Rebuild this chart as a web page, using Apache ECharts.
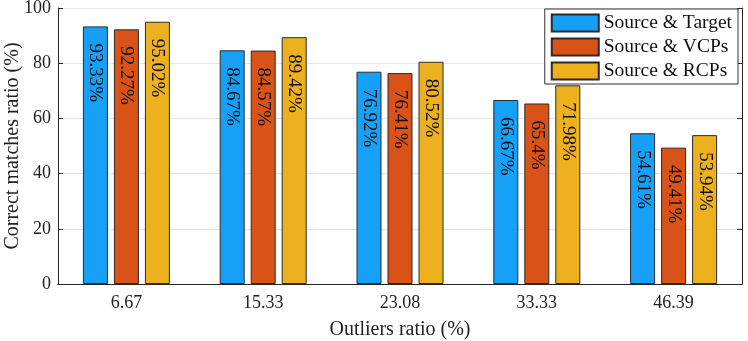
<!DOCTYPE html>
<html>
<head>
<meta charset="utf-8">
<script src="https://cdn.jsdelivr.net/npm/echarts@6/dist/echarts.min.js"></script>
<style>
  html, body { margin: 0; padding: 0; background: #fff; }
  #chart { width: 748px; height: 341px; }
</style>
</head>
<body>
<div id="chart"></div>
<script>
const categories = ['6.67', '15.33', '23.08', '33.33', '46.39']
const sourceTarget = [93.33, 84.67, 76.92, 66.67, 54.61]
const sourceVCPs = [92.27, 84.57, 76.41, 65.4, 49.41]
const sourceRCPs = [95.02, 89.42, 80.52, 71.98, 53.94]
const seriesNames = ['Source & Target', 'Source & VCPs', 'Source & RCPs']
const colors = ['#16A0F8', '#D95319', '#EDB120']

const font = 'Liberation Serif'
const axisColor = '#262626'

function makeSeries (name, data, color) {
  return {
    name: name,
    type: 'bar',
    data: data,
    barWidth: 25,
    barGap: '24%',
    itemStyle: {
      color: color,
      borderColor: '#2a2a2a',
      borderWidth: 1
    },
    label: {
      show: true,
      position: 'insideTop',
      distance: 17,
      rotate: -90,
      align: 'left',
      verticalAlign: 'middle',
      formatter: p => p.value + '%',
      color: '#111',
      fontSize: 19,
      fontFamily: font
    }
  }
}

let myChart = echarts.init(document.getElementById('chart'))
let option = {
  animation: false,
  grid: { left: 58, right: 6, top: 8, bottom: 57, outerBoundsMode: 'none' },
  legend: {
    data: seriesNames,
    orient: 'vertical',
    right: 10,
    top: 9,
    icon: 'rect',
    itemWidth: 47,
    itemHeight: 17,
    itemGap: 4,
    padding: [4, 6, 3, 6],
    backgroundColor: '#fff',
    borderColor: '#333',
    borderWidth: 1,
    textStyle: { fontSize: 19.5, lineHeight: 20, fontFamily: font, color: '#111' }
  },
  xAxis: [{
    type: 'category',
    data: categories,
    name: 'Outliers ratio (%)',
    nameLocation: 'middle',
    nameGap: 36,
    nameMoveOverlap: false,
    nameTextStyle: { fontSize: 20, fontFamily: font, color: '#222' },
    axisLine: { lineStyle: { color: axisColor } },
    axisTick: { inside: true, alignWithLabel: true, length: 5, lineStyle: { color: axisColor } },
    axisLabel: { fontSize: 18, fontFamily: font, color: '#222', margin: 10 }
  }, {
    type: 'category',
    data: categories,
    position: 'top',
    axisLine: { lineStyle: { color: axisColor } },
    axisTick: { inside: true, alignWithLabel: true, length: 5, lineStyle: { color: axisColor } },
    axisLabel: { show: false }
  }],
  yAxis: [{
    type: 'value',
    min: 0,
    max: 100,
    interval: 20,
    name: 'Correct matches ratio (%)',
    nameLocation: 'middle',
    nameGap: 35,
    nameMoveOverlap: false,
    nameTextStyle: { fontSize: 20, fontFamily: font, color: '#222' },
    axisLine: { show: true, lineStyle: { color: axisColor } },
    axisTick: { show: true, inside: true, length: 5, lineStyle: { color: axisColor } },
    axisLabel: { fontSize: 18, fontFamily: font, color: '#222', margin: 7 },
    splitLine: { lineStyle: { color: '#e6e6e6' } }
  }, {
    type: 'value',
    position: 'right',
    min: 0,
    max: 100,
    interval: 20,
    axisLine: { show: true, lineStyle: { color: axisColor } },
    axisTick: { show: true, inside: true, length: 5, lineStyle: { color: axisColor } },
    axisLabel: { show: false },
    splitLine: { show: false }
  }],
  series: [
    makeSeries(seriesNames[0], sourceTarget, colors[0]),
    makeSeries(seriesNames[1], sourceVCPs, colors[1]),
    makeSeries(seriesNames[2], sourceRCPs, colors[2])
  ]
}
myChart.setOption(option)
</script>
</body>
</html>
